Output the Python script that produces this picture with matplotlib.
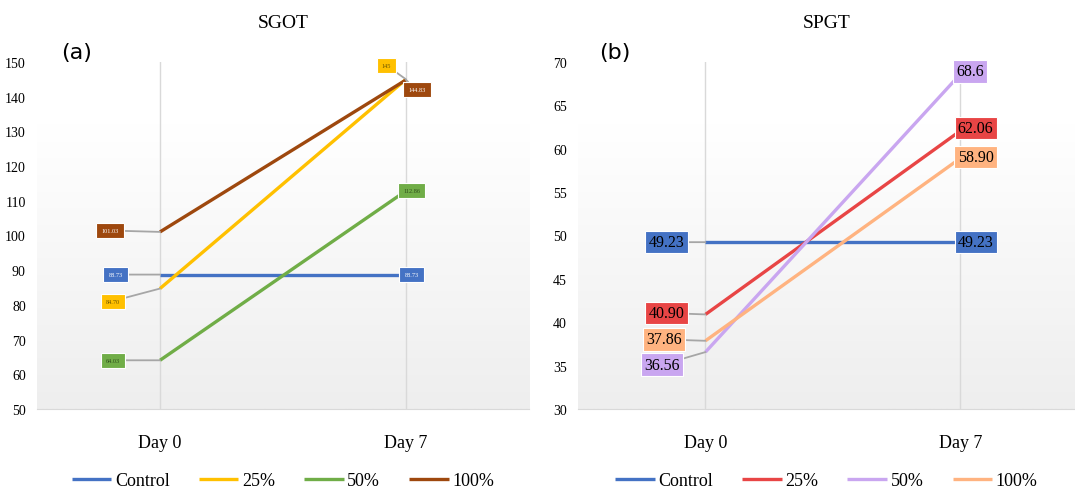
import numpy as np
import matplotlib
matplotlib.use('Agg')
import matplotlib.pyplot as plt
from matplotlib.colors import LinearSegmentedColormap

# datos
dias = ['Day 0', 'Day 7']
grupos = ['Control', '25%', '50%', '100%']

sgot_control = [88.73, 88.73]
sgot_25 = [84.70, 145]
sgot_50 = [64.03, 112.86]
sgot_100 = [101.03, 144.83]
sgot_etiquetas = [['88.73', '88.73'], ['84.70', '145'], ['64.03', '112.86'], ['101.03', '144.83']]

spgt_control = [49.23, 49.23]
spgt_25 = [40.90, 62.06]
spgt_50 = [36.56, 68.6]
spgt_100 = [37.86, 58.90]
spgt_etiquetas = [['49.23', '49.23'], ['40.90', '62.06'], ['36.56', '68.6'], ['37.86', '58.90']]

# estilos
colores_a = ['#4472C4', '#FFC000', '#70AD47', '#9E480E']
colores_b = ['#4472C4', '#E84545', '#C9A6F0', '#FFB380']
texto_a = ['white', '#6b5500', '#2f4d1c', 'white']

# desplazamientos de las etiquetas (puntos)
despl_a = [[(-32, 0), (4, 0)], [(-34, -9), (-14, 10)], [(-34, 0), (4, 0)], [(-36, 1), (8, -7)]]
despl_b = [[(-28, 0), (11, 0)], [(-28, 1), (11, 2)], [(-31, -9), (7, 2)], [(-30, 1), (11, 1)]]

serif = 'Liberation Serif'
fondo = LinearSegmentedColormap.from_list(
    'fondo', [(0, '#ffffff'), (0.18, '#ffffff'), (1, '#eeeeee')])

fig = plt.figure(figsize=(10.75, 4.89), dpi=100)
ax1 = fig.add_axes([0.0344, 0.1616, 0.4577, 0.7096])
ax2 = fig.add_axes([0.5377, 0.1616, 0.4623, 0.7096])


def dibujar(ax, series, etiquetas, colores, col_texto, despl, ylim, paso, titulo, letra,
            tam_fuente, pad_caja, xmax, x_letra):
    x = np.arange(len(dias))
    grad = np.linspace(0, 1, 256).reshape(-1, 1)
    ax.imshow(grad, extent=[0, 1, 0, 1], origin='upper', transform=ax.transAxes,
              cmap=fondo, aspect='auto', zorder=0)
    for i, s in enumerate(series):
        ax.plot(x, s, color=colores[i], lw=2.4, label=grupos[i], zorder=3,
                solid_capstyle='butt')
        for j in range(len(x)):
            ax.annotate(etiquetas[i][j], (x[j], s[j]), xytext=despl[i][j],
                        textcoords='offset points', ha='center', va='center',
                        fontsize=tam_fuente, family=serif, color=col_texto[i],
                        bbox=dict(boxstyle='square,pad=%s' % pad_caja, fc=colores[i],
                                  ec='white', lw=0.8),
                        arrowprops=dict(arrowstyle='-', color='#a6a6a6', lw=1.3,
                                        shrinkA=0, shrinkB=0),
                        zorder=5)
    ax.set_xlim(-0.5, xmax)
    ax.set_ylim(*ylim)
    ax.set_yticks(np.arange(ylim[0], ylim[1] + 0.1, paso))
    ax.set_xticks(x)
    ax.set_xticklabels(dias, family=serif, fontsize=13)
    for lab in ax.get_yticklabels():
        lab.set_family(serif)
        lab.set_fontsize(10)
    ax.tick_params(length=0)
    ax.tick_params(axis='x', pad=18)
    ax.tick_params(axis='y', pad=8)
    ax.xaxis.grid(True, color='#d9d9d9', lw=1)
    ax.set_axisbelow(True)
    for lado in ['top', 'right', 'left']:
        ax.spines[lado].set_visible(False)
    ax.spines['bottom'].set_color('#d9d9d9')
    ax.set_title(titulo, family=serif, fontsize=14, pad=25)
    ax.text(x_letra, 1.03, letra, transform=ax.transAxes, fontsize=16, family='DejaVu Sans',
            va='center', ha='center')
    ax.legend(loc='upper center', bbox_to_anchor=(0.5, -0.135), ncol=4, frameon=False,
              prop={'family': serif, 'size': 13}, handlelength=2.2, handletextpad=0.2,
              columnspacing=1.6)


dibujar(ax1, [sgot_control, sgot_25, sgot_50, sgot_100], sgot_etiquetas, colores_a,
        texto_a, despl_a, (50, 150), 10, 'SGOT', '(a)', 4.5, 0.8, 1.5, 0.08)
dibujar(ax2, [spgt_control, spgt_25, spgt_50, spgt_100], spgt_etiquetas, colores_b,
        ['black'] * 4, despl_b, (30, 70), 5, 'SPGT', '(b)', 11.5, 0.2, 1.45, 0.075)

fig.savefig('out.png', dpi=100)
